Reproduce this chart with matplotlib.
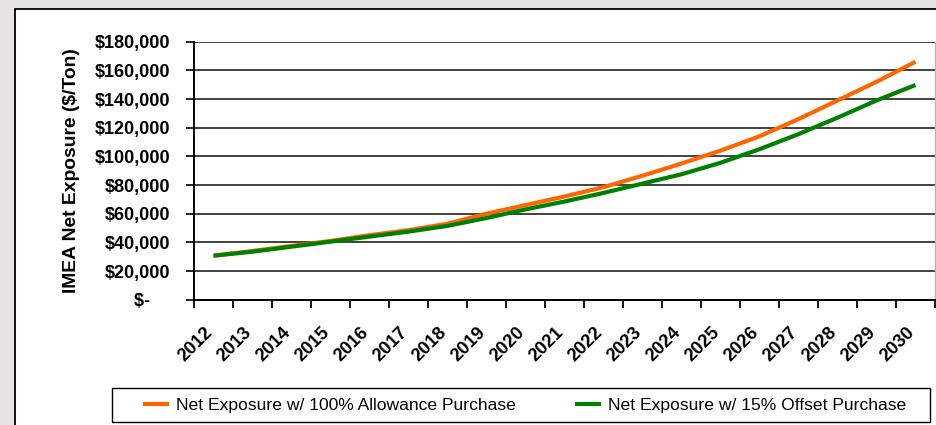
import matplotlib
matplotlib.use("Agg")
import matplotlib.pyplot as plt
from matplotlib.patches import Rectangle

plt.rcParams['font.family'] = ['Liberation Sans', 'DejaVu Sans']

# Data
years = [str(y) for y in range(2012, 2031)]
allowance_purchase = [30700, 34000, 37500, 41000, 45000, 48500, 53000, 60000, 66000,
                      72000, 78500, 86500, 95000, 104000, 114000, 126000, 139000,
                      152000, 166000]
offset_purchase = [30700, 33500, 37000, 40500, 44000, 47500, 51500, 57000, 63000,
                   68500, 74500, 81000, 87500, 95500, 105000, 115500, 127000,
                   139000, 149800]
y_ticks = [0, 20000, 40000, 60000, 80000, 100000, 120000, 140000, 160000, 180000]
y_tick_labels = ['$-    '] + [f'${v:,.0f}' for v in y_ticks[1:]]
series_names = ['Net Exposure w/ 100% Allowance Purchase',
                'Net Exposure w/ 15% Offset Purchase']

W, H = 936, 425
fig = plt.figure(figsize=(W / 100, H / 100), dpi=100)
fig.patch.set_facecolor('#e7e4e1')

# White chart panel with black border
fig.patches.append(Rectangle((15 / W, -0.2), 1.2, 1 - 9 / H + 0.2,
                             transform=fig.transFigure, facecolor='white',
                             edgecolor='black', linewidth=1.3, zorder=-2))

left, right = 194 / W, 935 / W
bottom, top = 1 - 299.7 / H, 1 - 41.7 / H
ax = fig.add_axes([left, bottom, right - left, top - bottom])
ax.set_facecolor('white')

x = list(range(len(years)))
ax.plot(x, allowance_purchase, color='#ff6600', lw=3.0, solid_capstyle='butt',
        label=series_names[0], zorder=3)
ax.plot(x, offset_purchase, color='#008000', lw=3.0, solid_capstyle='butt',
        label=series_names[1], zorder=3)

ax.set_xlim(-0.5, len(years) - 0.5)
ax.set_ylim(0, 180000)

# Y axis
ax.set_yticks(y_ticks, labels=y_tick_labels, fontweight='bold', fontsize=13)
ax.tick_params(axis='y', length=6, width=1.2, pad=11, direction='out')
ax.grid(axis='y', color='#333333', lw=1.3, zorder=1)
ax.set_axisbelow(True)
ax.set_ylabel('IMEA Net Exposure ($/Ton)', fontweight='bold', fontsize=13.9,
              va='center')
ax.yaxis.set_label_coords((72 - 194) / 741, 0.5)

# X axis: ticks at category boundaries, labels at centres
ax.set_xticks(x, labels=years, fontweight='bold', fontsize=13.2,
              rotation=45, ha='right', va='baseline', rotation_mode='anchor')
ax.set_xticks([i - 0.5 for i in range(len(years) + 1)], minor=True)
ax.tick_params(axis='x', which='major', length=0, pad=24)
ax.tick_params(axis='x', which='minor', length=6, width=1.3, direction='out')

for s in ('left', 'bottom'):
    ax.spines[s].set_color('black')
    ax.spines[s].set_linewidth(1.4)
ax.spines['top'].set_visible(False)
ax.spines['right'].set_color('#b8b8b8')
ax.spines['right'].set_linewidth(1.0)

# Legend box
fig.patches.append(Rectangle((112 / W, 1 - 422 / H), (930 - 112) / W, 34 / H,
                             transform=fig.transFigure, facecolor='white',
                             edgecolor='black', linewidth=1.0, zorder=-1))
fs = 12.6
fig.legend(loc='center', bbox_to_anchor=(524.5 / W, 1 - 405 / H), ncol=2,
           frameon=False, fontsize=fs, handlelength=26 / 17.5,
           handletextpad=7 / 17.5, columnspacing=59 / 17.5, borderpad=0,
           borderaxespad=0)

fig.savefig('out.png', dpi=100, facecolor=fig.get_facecolor())
